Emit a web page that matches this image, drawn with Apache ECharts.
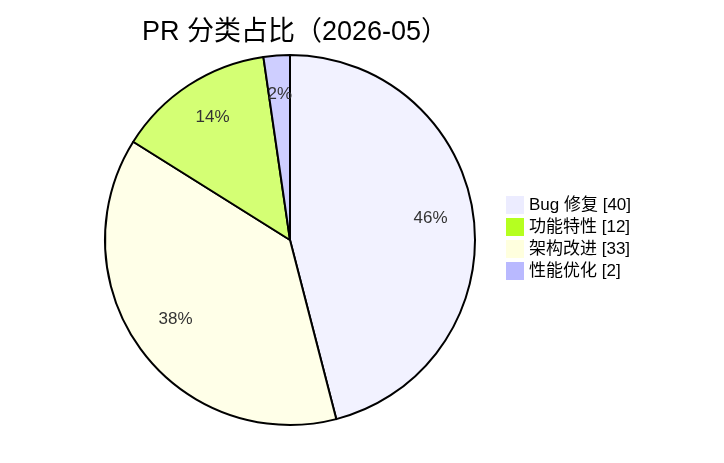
<!DOCTYPE html>
<html>
<head>
<meta charset="utf-8">
<script src="https://cdn.jsdelivr.net/npm/echarts@6/dist/echarts.min.js"></script>
<style>
html,body{margin:0;padding:0;background:#fff;}
#chart{width:724px;height:463px;}
</style>
</head>
<body>
<div id="chart"></div>
<script>
const titleText = 'PR 分类占比（2026-05）';
const categories = ['Bug 修复', '功能特性', '架构改进', '性能优化'];
const values = [40, 12, 33, 2];
const legendColors = ['#ECECFF', '#b5ff20', '#ffffde', '#b9b9ff'];
const sliceColors = ['#f2f2ff', '#d4ff74', '#ffffe8', '#cecefF'];

const FONT = '"Liberation Sans", "Noto Sans CJK SC", sans-serif';
const total = values.reduce((a, b) => a + b, 0);
const items = categories.map((c, i) => ({ name: c, value: values[i], idx: i }))
  .sort((a, b) => b.value - a.value);

const center = [290, 240];
const R = 185;

const chart = echarts.init(document.getElementById('chart'), null, { renderer: 'canvas' });
chart.setOption({
  animation: false,
  backgroundColor: '#ffffff',
  title: {
    text: titleText,
    left: 295, top: 19,
    textAlign: 'center',
    padding: 0,
    textStyle: { fontFamily: FONT, fontSize: 27, fontWeight: 'normal', color: '#000' }
  },
  legend: {
    orient: 'vertical',
    left: 506, top: 196,
    padding: 0,
    itemWidth: 18, itemHeight: 18, itemGap: 4,
    icon: 'rect',
    data: categories.map((c, i) => ({ name: c, itemStyle: { color: legendColors[i], borderWidth: 0 } })),
    formatter: name => name + ' [' + values[categories.indexOf(name)] + ']',
    textStyle: { fontFamily: FONT, fontSize: 17, color: '#000' },
    selectedMode: false
  },
  series: [
    {
      type: 'pie',
      center: center,
      radius: [0, R],
      startAngle: 90,
      clockwise: true,
      avoidLabelOverlap: false,
      label: { show: false },
      labelLine: { show: false },
      emphasis: { disabled: true },
      data: items.map(d => ({
        name: d.name, value: d.value,
        itemStyle: { color: sliceColors[d.idx], borderColor: '#000', borderWidth: 2 }
      }))
    },
    {
      type: 'pie',
      center: center,
      radius: [R * 0.5, R],
      startAngle: 90,
      clockwise: true,
      silent: true,
      avoidLabelOverlap: false,
      legendHoverLink: false,
      itemStyle: { color: 'rgba(0,0,0,0)', borderWidth: 0 },
      label: {
        show: true, position: 'inside',
        formatter: p => Math.round(p.value / total * 100) + '%',
        fontFamily: FONT, fontSize: 17, color: '#333',
        offset: [0, -4]
      },
      labelLine: { show: false },
      emphasis: { disabled: true },
      data: items.map(d => ({ name: d.name, value: d.value }))
    }
  ]
});
</script>
</body>
</html>
